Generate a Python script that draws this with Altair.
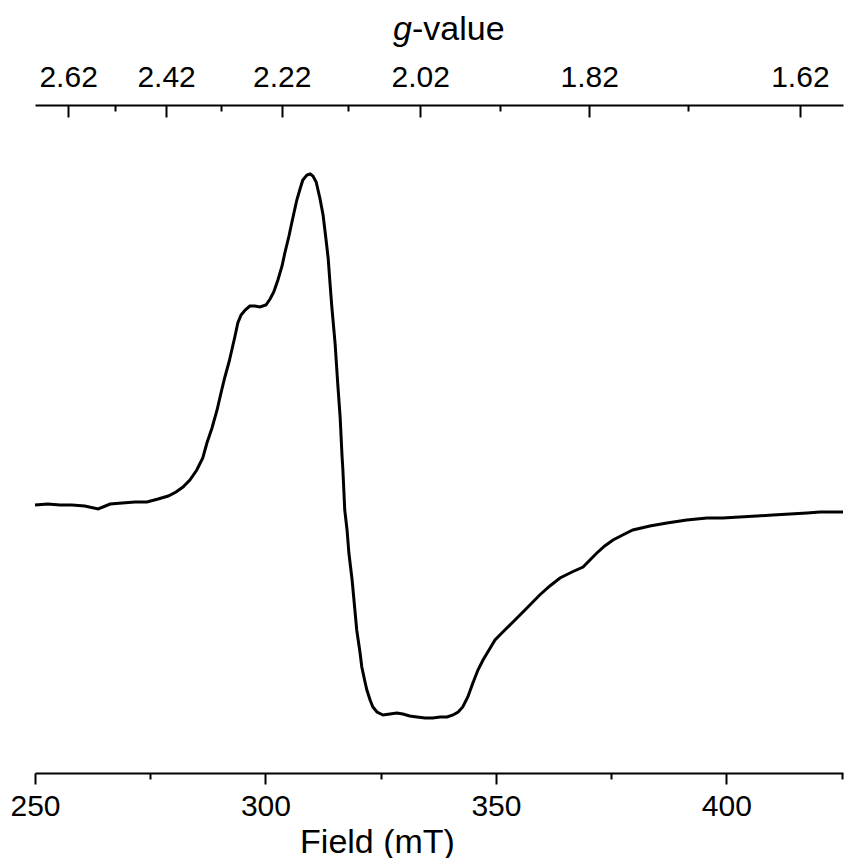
import altair as alt
import pandas as pd

# ---- data ----
field_mT = [250.0, 252.8, 255.4, 258.0, 260.8, 263.7, 266.3, 268.9, 271.7, 274.3,
            276.7, 278.9, 280.6, 282.1, 283.6, 285.1, 286.4, 287.3, 288.4, 289.5,
            290.3, 291.2, 292.1, 292.7, 293.4, 294.0, 294.7, 295.6, 296.6, 297.7,
            298.8, 300.1, 301.0, 301.8, 302.7, 303.6, 304.2, 305.1, 305.7, 306.8,
            307.5, 308.1, 309.0, 309.7, 310.3, 311.0, 311.8, 312.5, 313.1, 313.6,
            314.0, 314.4, 315.1, 315.7, 316.2, 316.6, 316.8, 317.2, 317.7, 318.1,
            318.8, 319.4, 319.8, 320.5, 320.9, 321.6, 322.0, 322.7, 323.3, 324.2,
            325.5, 327.0, 328.5, 329.8, 331.3, 332.9, 334.6, 336.3, 337.9, 339.4,
            340.7, 341.8, 342.8, 343.9, 345.0, 346.1, 347.2, 348.5, 349.8, 351.5,
            353.7, 356.3, 359.5, 361.7, 363.9, 366.5, 368.9, 370.4, 371.9, 373.6,
            375.4, 377.5, 379.7, 383.4, 387.1, 391.4, 395.8, 399.2, 402.9, 406.6,
            410.1, 413.8, 417.5, 420.3, 422.9, 425.3]
intensity = [0, 1, 0, 0, -1, -4, 1, 2, 3, 3,
             6, 9, 13, 18, 25, 35, 47, 62, 77, 95,
             111, 128, 143, 155, 169, 182, 190, 195, 199, 199,
             198, 200, 206, 213, 225, 239, 252, 269, 282, 305,
             316, 325, 330, 331, 329, 323, 307, 290, 267, 247,
             222, 198, 162, 120, 88, 50, 35, -5, -25, -48,
             -75, -105, -125, -147, -162, -177, -185, -195, -202, -207,
             -210, -209, -208, -209, -211, -212, -213, -213, -212, -212,
             -210, -207, -202, -192, -178, -165, -155, -145, -135, -127,
             -117, -105, -90, -81, -73, -67, -62, -55, -48, -41,
             -35, -30, -25, -21, -18, -15, -13, -13, -12, -11,
             -10, -9, -8, -7, -7, -7]

field_ticks = [250, 275, 300, 325, 350, 375, 400, 425]
g_ticks = [2.62, 2.52, 2.42, 2.32, 2.22, 2.12, 2.02, 1.92, 1.82, 1.72, 1.62]
freq_GHz = 9.431
# resonance field (mT) for g = 1: h*nu / mu_B
K = 6.62607015e-34 * freq_GHz * 1e9 / 9.2740100783e-24 * 1000.0
g_tick_fields = [K / g for g in g_ticks]

df = pd.DataFrame({"field": field_mT, "signal": intensity})

FONT = "Liberation Sans"
LABEL_SIZE = 30
TITLE_SIZE = 34
x_scale = alt.Scale(domain=[250, 425.3], nice=False, zero=False)
y_scale = alt.Scale(domain=[-268, 400], nice=False, zero=False)

common_axis = dict(
    grid=False, domainColor="black", domainWidth=2, tickColor="black", tickWidth=2,
    labelColor="black", labelFont=FONT, labelFontSize=LABEL_SIZE, labelFlush=False,
    labelOverlap=False, titleFont=FONT, titleFontSize=TITLE_SIZE, titleColor="black",
    titleFontWeight="normal",
)

bottom_axis = alt.Axis(
    orient="bottom", values=field_ticks,
    labelExpr="datum.value % 50 === 0 ? datum.label : ''",
    tickSize=alt.ExprRef(expr="datum.value % 50 === 0 ? 11 : 6"),
    labelPadding=7, title="Field (mT)", titlePadding=4, titleX=342,
    **common_axis,
)

gexpr = f"({K:.4f} / datum.value)"
major_test = f"round({gexpr} * 100) % 20 === 2"
top_axis = alt.Axis(
    orient="top", values=g_tick_fields,
    labelExpr=f"{major_test} ? format({gexpr}, '.2f') : ''",
    tickSize=alt.ExprRef(expr=f"{major_test} ? -12 : -6"),
    labelPadding=25, title=None, **common_axis,
)

y_enc = alt.Y("signal:Q", scale=y_scale, axis=None)

line = alt.Chart(df).mark_line(color="black", strokeWidth=3).encode(
    x=alt.X("field:Q", scale=x_scale, axis=bottom_axis),
    y=y_enc,
)

top = alt.Chart(df).mark_line(opacity=0).encode(
    x=alt.X("field:Q", scale=x_scale, axis=top_axis),
    y=y_enc,
)

one = alt.Data(values=[{"a": 1}])
g_text = alt.Chart(one).mark_text(
    text="g", font=FONT, fontSize=TITLE_SIZE, fontStyle="italic", align="right",
    baseline="middle", color="black",
).encode(x=alt.value(377), y=alt.value(-75))
value_text = alt.Chart(one).mark_text(
    text="-value", font=FONT, fontSize=TITLE_SIZE, align="left",
    baseline="middle", color="black",
).encode(x=alt.value(377), y=alt.value(-75))

chart = alt.layer(line, top, g_text, value_text).resolve_axis(
    x="independent"
).properties(
    width=808, height=668,
    background="white",
    autosize=alt.AutoSizeParams(type="none"),
    padding={"left": 27, "top": 97, "right": 4, "bottom": 85},
).configure_view(stroke=None)

chart.save("out.html", embed_options={"renderer": "svg", "actions": False})
